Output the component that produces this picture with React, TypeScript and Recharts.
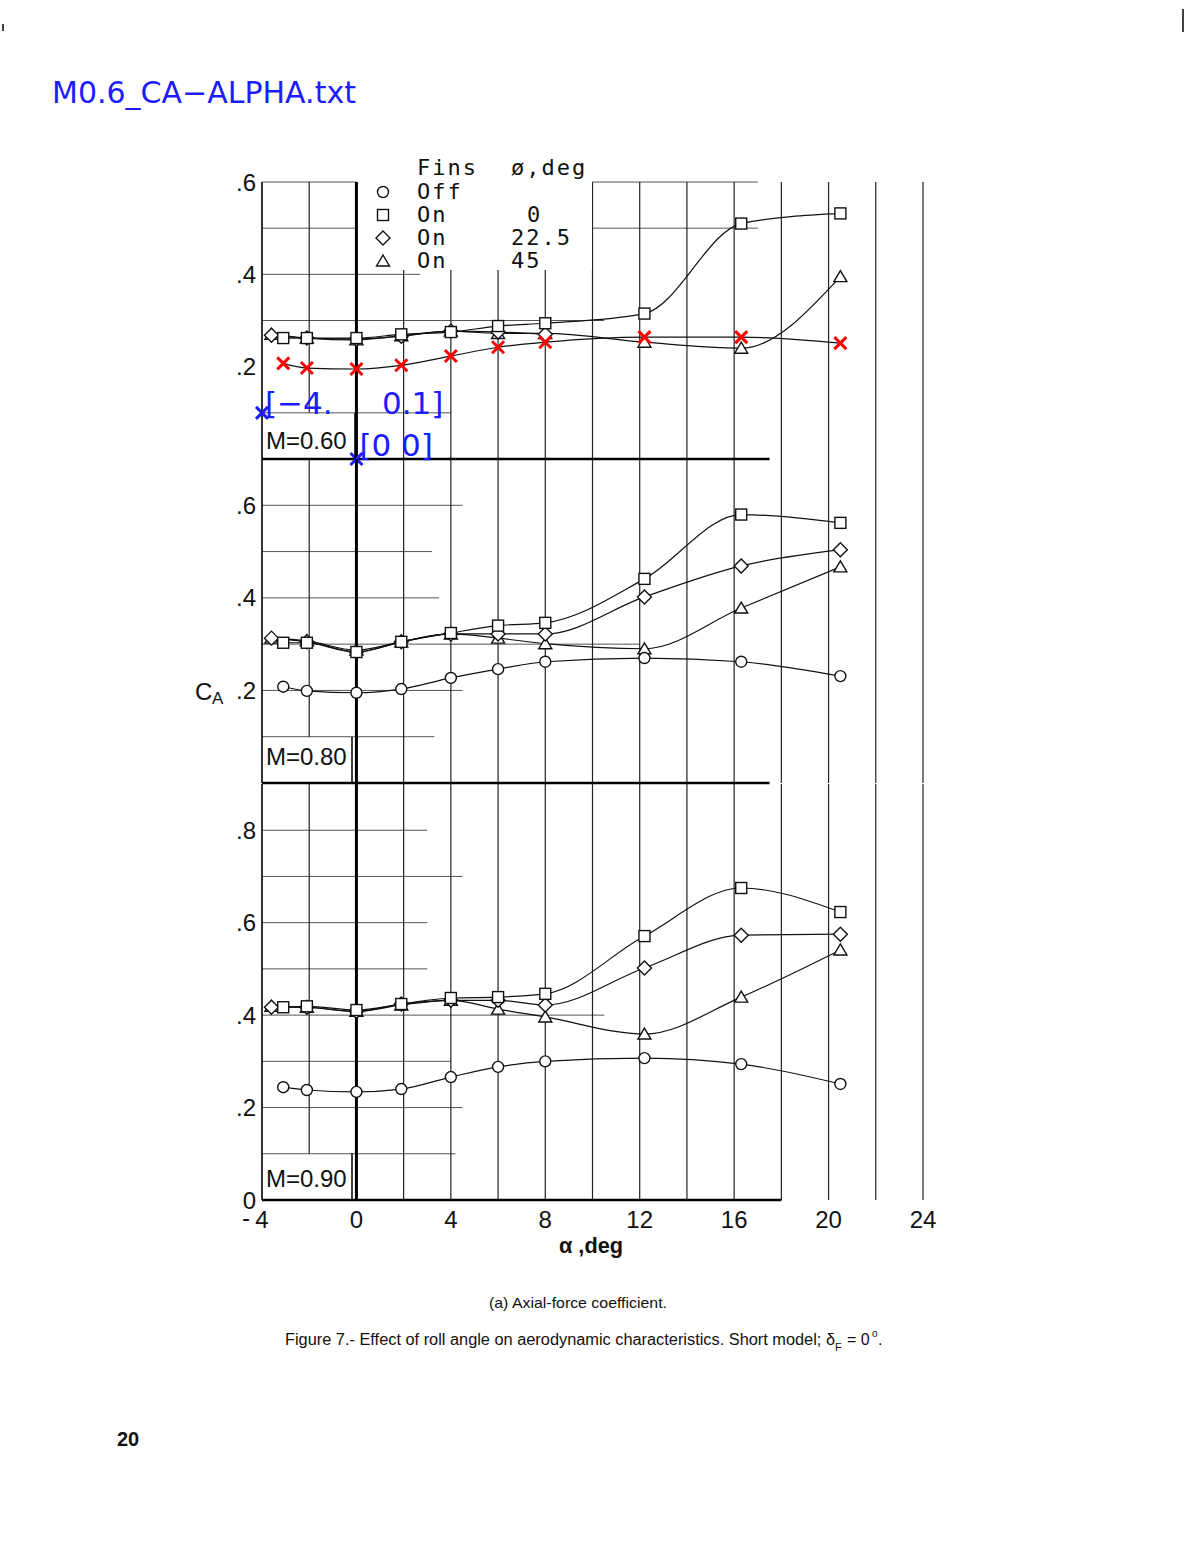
import React from 'react'
import { LineChart, Line, XAxis, YAxis, ReferenceLine } from 'recharts'

// angle of attack, deg (diamond / triangle first point sits a little further left)
const ALPHA = [-3.1, -2.1, 0, 1.9, 4, 6, 8, 12.2, 16.3, 20.5]
const ALPHA_L = [-3.6, -2.1, 0, 1.9, 4, 6, 8, 12.2, 16.3, 20.5]

// C_A, M = 0.60
const M60_OFF = [0.207, 0.197, 0.195, 0.203, 0.223, 0.242, 0.253, 0.264, 0.264, 0.251]
const M60_SQ = [0.262, 0.262, 0.262, 0.27, 0.275, 0.288, 0.294, 0.315, 0.51, 0.532]
const M60_DI = [0.268, 0.262, 0.26, 0.266, 0.277, 0.275, 0.27, null, null, null]
const M60_TRI = [0.27, 0.262, 0.258, 0.267, 0.277, 0.272, 0.272, 0.253, 0.24, 0.395]

// M = 0.80
const M80_OFF = [0.208, 0.199, 0.195, 0.203, 0.227, 0.246, 0.262, 0.27, 0.262, 0.231]
const M80_SQ = [0.303, 0.303, 0.283, 0.305, 0.324, 0.34, 0.346, 0.441, 0.58, 0.562]
const M80_DI = [0.313, 0.305, 0.283, 0.305, 0.322, 0.322, 0.322, 0.402, 0.469, 0.504]
const M80_TRI = [0.313, 0.307, 0.287, 0.305, 0.322, 0.313, 0.301, 0.29, 0.378, 0.467]

// M = 0.90
const M90_OFF = [0.244, 0.238, 0.234, 0.24, 0.266, 0.288, 0.3, 0.307, 0.294, 0.251]
const M90_SQ = [0.417, 0.419, 0.411, 0.424, 0.437, 0.439, 0.446, 0.571, 0.675, 0.623]
const M90_DI = [0.417, 0.417, 0.408, 0.424, 0.432, 0.432, 0.422, 0.502, 0.573, 0.575]
const M90_TRI = [0.419, 0.417, 0.408, 0.422, 0.432, 0.413, 0.396, 0.359, 0.439, 0.541]

// digitizer calibration points
const CAL_ALPHA = [-4, 0]
const CAL_CA = [0.1, 0]
const CAL_LABELS = ['[\u22124.     0.1]', '[0 0]']

const X_TICKS = [-4, 0, 4, 8, 12, 16, 20, 24]
const GRID_X = [-2, 2, 4, 6, 8, 10, 12, 14, 16, 18, 20, 22, 24]

const BLUE = '#1c1cff'
const INK = '#111'
const TICK_FONT = 'Liberation Sans, Arial, sans-serif'

type Shape = 'circle' | 'square' | 'diamond' | 'triangle' | 'redx'

const rows = (xs: number[], ys: (number | null)[]) => xs.map((a, i) => ({ a, ca: ys[i] }))

function Glyph({ shape, cx, cy }: { shape: Shape; cx: number; cy: number }) {
  const sw = 1.4
  if (shape === 'circle') return <circle cx={cx} cy={cy} r={5.5} fill="#fff" stroke={INK} strokeWidth={sw} />
  if (shape === 'square') return <rect x={cx - 5.5} y={cy - 5.5} width={11} height={11} fill="#fff" stroke={INK} strokeWidth={sw} />
  if (shape === 'diamond')
    return <polygon points={`${cx},${cy - 7} ${cx + 7},${cy} ${cx},${cy + 7} ${cx - 7},${cy}`} fill="#fff" stroke={INK} strokeWidth={sw} />
  if (shape === 'triangle')
    return <polygon points={`${cx},${cy - 6} ${cx + 6.5},${cy + 5} ${cx - 6.5},${cy + 5}`} fill="#fff" stroke={INK} strokeWidth={sw} />
  return (
    <g stroke="#f00" strokeWidth={3}>
      <line x1={cx - 6} y1={cy - 6} x2={cx + 6} y2={cy + 6} />
      <line x1={cx - 6} y1={cy + 6} x2={cx + 6} y2={cy - 6} />
    </g>
  )
}

const mark = (shape: Shape) => (p: any) => {
  const { cx, cy, index } = p
  if (cx == null || cy == null || Number.isNaN(cy) || p.value == null) return <g key={index} />
  return (
    <g key={index}>
      <Glyph shape={shape} cx={cx} cy={cy} />
    </g>
  )
}

const calMark = (p: any) => {
  const { cx, cy, index } = p
  if (cx == null || cy == null) return <g key={index} />
  return (
    <g key={index}>
      <g stroke={BLUE} strokeWidth={3}>
        <line x1={cx - 6} y1={cy - 6} x2={cx + 6} y2={cy + 6} />
        <line x1={cx - 6} y1={cy + 6} x2={cx + 6} y2={cy - 6} />
      </g>
      <text x={cx + 3} y={cy + (index === 0 ? 1 : -3)} fill={BLUE} fontSize={31}
        fontFamily="DejaVu Sans, sans-serif" style={{ whiteSpace: 'pre' }}>
        {CAL_LABELS[index]}
      </text>
    </g>
  )
}

function XTick(props: any) {
  const { x, y, payload } = props
  const v = payload.value as number
  return (
    <g>
      <text x={x} y={y + 28} textAnchor="middle" fontSize={24} fontFamily={TICK_FONT} fill={INK}>{Math.abs(v)}</text>
      {v < 0 && <text x={x - 12} y={y + 26} textAnchor="end" fontSize={24} fontFamily={TICK_FONT} fill={INK}>-</text>}
    </g>
  )
}

const fmtY = (v: number) => (v === 0 ? '0' : '.' + Math.round(v * 10))

const PANELS = [
  {
    top: 182, h: 277, yMax: 0.6, yTicks: [0, 0.2, 0.4, 0.6],
    off: M60_OFF, sq: M60_SQ, di: M60_DI, tri: M60_TRI, offShape: 'redx' as Shape, cal: true,
    hgrid: [[0.1, -4, 4], [0.3, -4, 10.5], [0.4, -4, 2.7], [0.5, -4, 0], [0.5, 10, 17], [0.6, -4, 0], [0.6, 10, 17]],
    zeroEnd: 17.5,
  },
  {
    top: 459, h: 324, yMax: 0.7, yTicks: [0, 0.2, 0.4, 0.6],
    off: M80_OFF, sq: M80_SQ, di: M80_DI, tri: M80_TRI, offShape: 'circle' as Shape, cal: false,
    hgrid: [[0.1, -4, 3.3], [0.2, -4, 4.5], [0.3, -4, 12], [0.4, -4, 3.5], [0.5, -4, 3.2], [0.6, -4, 4.5]],
    zeroEnd: 17.5,
  },
  {
    top: 784, h: 416, yMax: 0.9, yTicks: [0, 0.2, 0.4, 0.6, 0.8],
    off: M90_OFF, sq: M90_SQ, di: M90_DI, tri: M90_TRI, offShape: 'circle' as Shape, cal: false,
    hgrid: [[0.1, -4, 4.2], [0.2, -4, 4.5], [0.3, -4, 4], [0.4, -4, 10.5], [0.5, -4, 3], [0.6, -4, 3], [0.7, -4, 4.5], [0.8, -4, 3]],
    zeroEnd: 18,
  },
]

function Panel({ p, showX }: { p: (typeof PANELS)[number]; showX: boolean }) {
  const height = 20 + p.h + (showX ? 60 : 10)
  return (
    <div style={{ position: 'absolute', left: 212, top: p.top - 20 }}>
      <LineChart width={741} height={height} margin={{ top: 20, right: 30, bottom: showX ? 0 : 10, left: 0 }}>
        <XAxis type="number" dataKey="a" domain={[-4, 24]} ticks={X_TICKS} hide={!showX} height={60}
          axisLine={false} tickLine={false} tickSize={0} tickMargin={0} tick={<XTick />} />
        <YAxis type="number" domain={[0, p.yMax]} ticks={p.yTicks} width={50} tickFormatter={fmtY}
          axisLine={false} tickLine={false} tickSize={0} tickMargin={6}
          tick={{ fontSize: 24, fill: INK, fontFamily: TICK_FONT }} />
        {p.hgrid.map(([y, x1, x2], i) => (
          <ReferenceLine key={'h' + i} segment={[{ x: x1, y }, { x: x2, y }]} stroke="#555" strokeWidth={1} ifOverflow="visible" />
        ))}
        {GRID_X.map(x => (
          <ReferenceLine key={'v' + x} segment={[{ x, y: x === -2 ? 0.1 : 0 }, { x, y: p.yMax }]}
            stroke="#222" strokeWidth={1.2} ifOverflow="visible" />
        ))}
        <ReferenceLine segment={[{ x: -4, y: 0 }, { x: -4, y: p.yMax }]} stroke="#000" strokeWidth={1.6} ifOverflow="visible" />
        <ReferenceLine segment={[{ x: 0, y: 0 }, { x: 0, y: p.yMax }]} stroke="#000" strokeWidth={3} ifOverflow="visible" />
        <ReferenceLine segment={[{ x: -4, y: 0 }, { x: p.zeroEnd, y: 0 }]} stroke="#000" strokeWidth={2.5} ifOverflow="visible" />
        <Line data={rows(ALPHA_L, p.tri)} dataKey="ca" type="monotone" stroke={INK} strokeWidth={1.2}
          dot={mark('triangle')} activeDot={false} isAnimationActive={false} />
        <Line data={rows(ALPHA_L, p.di)} dataKey="ca" type="monotone" stroke={INK} strokeWidth={1.2}
          dot={mark('diamond')} activeDot={false} isAnimationActive={false} />
        <Line data={rows(ALPHA, p.sq)} dataKey="ca" type="monotone" stroke={INK} strokeWidth={1.2}
          dot={mark('square')} activeDot={false} isAnimationActive={false} />
        <Line data={rows(ALPHA, p.off)} dataKey="ca" type="monotone" stroke={INK} strokeWidth={1.2}
          dot={mark(p.offShape)} activeDot={false} isAnimationActive={false} />
        {p.cal && (
          <Line data={rows(CAL_ALPHA, CAL_CA)} dataKey="ca" stroke="none" dot={calMark}
            activeDot={false} isAnimationActive={false} />
        )}
      </LineChart>
    </div>
  )
}

const LEGEND_ROWS: { shape: Shape; fins: string; phi: string; phiX: number }[] = [
  { shape: 'circle', fins: 'Off', phi: '', phiX: 511 },
  { shape: 'square', fins: 'On', phi: '0', phiX: 527 },
  { shape: 'diamond', fins: 'On', phi: '22.5', phiX: 511 },
  { shape: 'triangle', fins: 'On', phi: '45', phiX: 511 },
]

const MACH_LABELS = [
  { text: 'M=0.60', top: 413, bottom: 459, right: 355, base: 449 },
  { text: 'M=0.80', top: 737, bottom: 783, right: 352, base: 765 },
  { text: 'M=0.90', top: 1153, bottom: 1200, right: 352, base: 1187 },
]

export default function App() {
  const mono = { fontFamily: 'DejaVu Sans Mono, monospace', fontSize: 22, letterSpacing: 2, fill: INK }
  return (
    <div style={{ position: 'absolute', left: 0, top: 0, width: 1187, height: 1554, overflow: 'hidden', background: '#fff' }}>
      {PANELS.map((p, i) => (
        <Panel key={i} p={p} showX={i === PANELS.length - 1} />
      ))}
      <svg width={1187} height={1554} style={{ position: 'absolute', left: 0, top: 0, pointerEvents: 'none' }}>
        <line x1={3} y1={24} x2={3} y2={31} stroke="#000" strokeWidth={1.5} />
        <line x1={1183} y1={9} x2={1183} y2={32} stroke="#000" strokeWidth={1.5} />
        <text x={52} y={103} fontFamily="DejaVu Sans, sans-serif" fontSize={30} fill={BLUE}>M0.6_CA{'\u2212'}ALPHA.txt</text>

        {/* legend */}
        <rect x={358} y={148} width={234} height={122} fill="#fff" />
        <text x={417} y={175} {...mono}>Fins</text>
        <text x={511} y={175} {...mono}>ø,deg</text>
        {LEGEND_ROWS.map((r, i) => (
          <g key={i}>
            <Glyph shape={r.shape} cx={383} cy={192 + i * 23} />
            <text x={417} y={199 + i * 23} {...mono}>{r.fins}</text>
            <text x={r.phiX} y={199 + i * 23} {...mono}>{r.phi}</text>
          </g>
        ))}

        {MACH_LABELS.map((m, i) => (
          <g key={i}>
            <line x1={m.right} y1={m.top} x2={m.right} y2={m.bottom} stroke="#000" strokeWidth={1.5} />
            <text x={266} y={m.base} fontFamily={TICK_FONT} fontSize={24} fill={INK}>{m.text}</text>
          </g>
        ))}

        <text x={195} y={700} fontFamily={TICK_FONT} fontSize={24} fill={INK}>C</text>
        <text x={212} y={704} fontFamily={TICK_FONT} fontSize={17} fill={INK}>A</text>

        <text x={559} y={1253} fontFamily={TICK_FONT} fontSize={22} fontWeight="bold" fill={INK} textLength={64} lengthAdjust="spacingAndGlyphs">α ,deg</text>

        <text x={489} y={1308} fontFamily={TICK_FONT} fontSize={15} fill={INK} textLength={178} lengthAdjust="spacingAndGlyphs">(a) Axial-force coefficient.</text>
        <text x={285} y={1345} fontFamily={TICK_FONT} fontSize={16} fill={INK} textLength={550} lengthAdjust="spacingAndGlyphs">
          Figure 7.-  Effect of roll angle on aerodynamic characteristics.  Short model;  δ
        </text>
        <text x={835} y={1351} fontFamily={TICK_FONT} fontSize={11} fill={INK}>F</text>
        <text x={847} y={1345} fontFamily={TICK_FONT} fontSize={16} fill={INK}>= 0</text>
        <text x={872} y={1337} fontFamily={TICK_FONT} fontSize={10} fill={INK}>o</text>
        <text x={878} y={1345} fontFamily={TICK_FONT} fontSize={16} fill={INK}>.</text>

        <text x={117} y={1446} fontFamily={TICK_FONT} fontSize={20} fontWeight="bold" fill={INK}>20</text>
      </svg>
    </div>
  )
}
